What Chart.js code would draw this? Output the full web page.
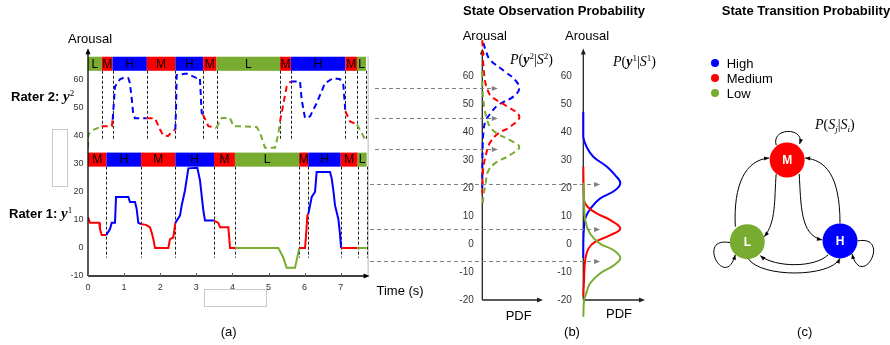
<!DOCTYPE html>
<html><head><meta charset="utf-8">
<script src="https://cdn.jsdelivr.net/npm/chart.js@4.4.0/dist/chart.umd.min.js"></script>
<style>
html,body{margin:0;padding:0;background:#fff;}
#wrap{position:relative;width:890px;height:345px;overflow:hidden;font-family:"Liberation Sans",Arial,sans-serif;}
canvas{position:absolute;left:0;top:0;}
.t{position:absolute;white-space:nowrap;color:#000;line-height:1;font-size:13px;}
.serif{font-family:"Liberation Serif","DejaVu Serif",serif;font-size:14px;}
.sup{font-size:0.65em;position:relative;top:-0.55em;}
.sub{font-size:0.65em;position:relative;top:0.3em;}
.dot{position:absolute;width:8px;height:8px;border-radius:50%;}
.box{position:absolute;border:1px solid #c8c8c8;box-sizing:border-box;}
</style></head><body><div id="wrap">
<canvas id="ca" width="890" height="345"></canvas>
<canvas id="cb2" width="890" height="345"></canvas>
<canvas id="cb1" width="890" height="345"></canvas>
<canvas id="cc" width="890" height="345"></canvas>
</div>
<script>
// ---------------- DATA ----------------
const STATE_COLOR = {H:'#0000FF', M:'#FF0000', L:'#77AC30'};

// Panel (a): time series
const timeTicks = [0,1,2,3,4,5,6,7];
const arousalTicksA = [-10,0,10,20,30,40,50,60];

const rater2Time  = [0,0.01,0.148,0.332,0.379,0.66,0.683,0.748,0.886,1.0,1.117,1.16,1.22,1.25,1.30,1.625,1.856,1.90,2.0,2.08,2.22,2.30,2.40,2.419,2.44,2.456,2.733,3.01,3.10,3.149,3.186,3.333,3.555,3.703,3.934,4.026,4.211,4.672,4.765,4.903,5.18,5.272,5.319,5.503,5.614,5.873,5.919,6.011,6.15,6.334,6.565,6.796,6.981,7.073,7.128,7.258,7.452,7.673];
const rater2Value = [35.6,40.4,42,43,43.3,43.3,45.6,57.4,60,60.6,60.4,58.7,52,48,46.1,46.1,46.1,44.8,42,40,39.8,41,42,42,50,61.5,62,60.4,60.4,48,47.4,43.3,42.7,46.2,46.2,43.3,43.3,43,41,35.6,35.6,40.4,45,57.4,59.2,59.2,52.7,46.2,46.8,51.5,58.6,60.4,60,58,48.6,45,43.9,38.6];
const rater2State = 'LLLL MM HHHHHHHHH MMMMMMMM HHHHHHH MM LLLLLLLLLL MM HHHHHHHHHH MM LL'.replace(/ /g,'').split('');

const rater1Time  = [0,0.055,0.314,0.332,0.379,0.508,0.609,0.656,0.748,0.776,1.117,1.163,1.302,1.348,1.394,1.468,1.625,1.717,1.764,1.81,1.856,2.225,2.271,2.364,2.419,2.548,2.595,2.687,2.779,3.029,3.102,3.195,3.241,3.49,3.61,3.657,3.887,3.934,4.072,5.272,5.411,5.503,5.734,5.854,6.011,6.039,6.076,6.104,6.196,6.288,6.334,6.704,6.75,6.796,6.842,6.934,6.981,7.01,7.47,7.72];
const rater1Value = [10.9,8.9,8.9,6.7,4.6,4.6,6.7,8.9,8.9,18.1,18.1,16.3,16.3,13.9,8.9,8.5,8.1,7.3,5.5,3.1,0,0,3.1,3.7,8.9,11.5,15.1,20.5,28.3,28.5,24,13.3,9.7,9.7,8.9,7.3,7.3,0,0,0,-3.5,-7.1,-7.1,0,0,4.3,11.5,12.1,18.1,19.9,27,27,24.7,20.5,15.1,10.3,4.9,0,0,0];
const rater1State = 'MMMMM HHHHHHHHHH MMMMMMMMM HHHHHHHHH MMMMM LLLLL MMMM HHHHHHHHHH M LL'.replace(/ /g,'').split('');

// state bands (segment boundaries in seconds, state of each segment)
const rater2Bounds = [0,0.38,0.68,1.63,2.42,3.19,3.56,5.32,5.62,7.13,7.45,7.70];
const rater2BandStates = ['L','M','H','M','H','M','L','M','H','M','L'];
const rater1Bounds = [0,0.51,1.47,2.42,3.49,4.07,5.85,6.10,7.0,7.47,7.72];
const rater1BandStates = ['M','H','M','H','M','L','M','H','M','L'];
const rater2BandRange = [63,68];
const rater1BandRange = [28.9,33.9];
const rater2MarkerBottom = 38.3;
const rater1MarkerBottom = -3.5;

// Panel (b): observation PDFs (arousal, pdf relative to peak)
const arousalTicksB = [-20,-10,0,10,20,30,40,50,60];
const pdf2HighArousal = [72,69,66,61.7,58.7,55.8,52.8,49.8,46.8,43.8,40,35,25,20];
const pdf2High        = [0.03,0.1,0.21,0.62,0.89,1.0,0.84,0.43,0.22,0.08,0.03,0.01,0,0];
const pdf2MedArousal  = [73,66,58.7,55,52.8,49.8,45.8,42,39.6,36.6,33.7,26.5,18];
const pdf2Med         = [0,0.02,0.07,0.15,0.25,0.61,1.0,0.75,0.43,0.22,0.13,0.02,0];
const pdf2LowArousal  = [62,55,49.2,45,42,39.6,37.2,34.8,31.9,28.9,25.9,21.7,17,14];
const pdf2Low         = [0,0.01,0.05,0.12,0.21,0.4,0.75,1.0,0.75,0.34,0.15,0.09,0.03,0.01];

const pdf1HighArousal = [47.4,38.4,34.8,31.3,27.7,24.7,21.9,19.3,16.3,13.3,9.8,6.2,0,-5];
const pdf1High        = [0,0,0.09,0.27,0.64,0.86,1.0,0.86,0.45,0.23,0.07,0.02,0,0];
const pdf1MedArousal  = [27.7,15.7,13.3,11,8.6,5.6,3.2,0.8,-1.6,-5.8,-13,-18.8];
const pdf1Med         = [0,0.02,0.12,0.36,0.73,1.0,0.73,0.32,0.14,0.05,0.02,0];
const pdf1LowArousal  = [22,16.9,8.6,3.8,0.2,-2.2,-5,-7.6,-10.5,-14.1,-17.1,-18.8,-20,-26];
const pdf1Low         = [0,0.02,0.05,0.18,0.45,0.82,1.0,0.82,0.45,0.18,0.09,0.05,0.02,0];

// arousal levels of the dashed arrows linking (a) to (b)
const rater2ArrowLevels = [55.9,45.3,33.9];
const rater1ArrowLevels = [21.4,5.3,-6.0];

// Panel (c): states of the transition diagram
const nodeStates = ['M','L','H'];
const nodeX = [0.43,0,1];
const nodeY = [1,0,0.01];
const legendStates = [['High','H'],['Medium','M'],['Low','L']];

// ---------------- HELPERS ----------------
const wrap = document.getElementById('wrap');
function addText(html, x, y, cls, align){
  const d = document.createElement('div');
  d.className = 't ' + (cls||'');
  d.innerHTML = html;
  d.style.left = x + 'px'; d.style.top = y + 'px';
  d.style.transform = align === 'center' ? 'translate(-50%,-50%)' : 'translate(0,-50%)';
  wrap.appendChild(d);
  return d;
}
function arrowHead(ctx, x, y, ang, len, wid, color){
  ctx.save(); ctx.translate(x,y); ctx.rotate(ang); ctx.fillStyle = color;
  ctx.beginPath(); ctx.moveTo(0,0); ctx.lineTo(-len,-wid/2); ctx.lineTo(-len,wid/2); ctx.closePath(); ctx.fill();
  ctx.restore();
}
const baseOpts = () => ({
  responsive:false, animation:false, devicePixelRatio:1,
  plugins:{legend:{display:false}, tooltip:{enabled:false}},
  events:[]
});

// ---------------- PANEL (a) ----------------
function drawBands(chart, bounds, states, range, bottomVal){
  const {ctx, scales:{x,y}} = chart;
  const yTop = y.getPixelForValue(range[1]), yBot = y.getPixelForValue(range[0]);
  ctx.save();
  for (let i=0;i<states.length;i++){
    const x0 = x.getPixelForValue(bounds[i]), x1 = x.getPixelForValue(bounds[i+1]);
    ctx.fillStyle = STATE_COLOR[states[i]];
    ctx.fillRect(x0, yTop, x1-x0, yBot-yTop);
    ctx.fillStyle = '#000'; ctx.font = '12px "Liberation Sans", Arial';
    ctx.textAlign = 'center'; ctx.textBaseline = 'middle';
    ctx.fillText(states[i], (x0+x1)/2, (yTop+yBot)/2+0.5);
  }
  ctx.strokeStyle = '#222'; ctx.lineWidth = 1; ctx.setLineDash([3,2]);
  const yb = y.getPixelForValue(bottomVal);
  for (let i=1;i<bounds.length;i++){
    const px = Math.round(x.getPixelForValue(bounds[i]))+0.5;
    ctx.beginPath(); ctx.moveTo(px, yBot); ctx.lineTo(px, yb); ctx.stroke();
  }
  ctx.restore();
}
const panelAPlugin = {
  id:'panelA',
  beforeDatasetsDraw(chart){
    const {ctx, scales:{y}, chartArea:a} = chart;
    ctx.save(); ctx.strokeStyle = '#b8b8b8'; ctx.lineWidth = 1;
    ctx.beginPath(); ctx.moveTo(a.right-1.5, y.getPixelForValue(rater2BandRange[1])); ctx.lineTo(a.right-1.5, a.bottom); ctx.stroke();
    ctx.restore();
    drawBands(chart, rater2Bounds, rater2BandStates, rater2BandRange, rater2MarkerBottom);
    drawBands(chart, rater1Bounds, rater1BandStates, rater1BandRange, rater1MarkerBottom);
  },
  afterDraw(chart){
    const {ctx, scales:{x}, chartArea:a} = chart;
    ctx.save(); ctx.strokeStyle = '#000'; ctx.lineWidth = 1.3;
    ctx.beginPath(); ctx.moveTo(a.left, a.bottom); ctx.lineTo(a.left, a.top+4); ctx.stroke();
    arrowHead(ctx, a.left, a.top, -Math.PI/2, 6, 5, '#000');
    ctx.beginPath(); ctx.moveTo(a.left, a.bottom); ctx.lineTo(a.right-4, a.bottom); ctx.stroke();
    arrowHead(ctx, a.right, a.bottom, 0, 6, 5, '#000');
    ctx.strokeStyle = '#666'; ctx.lineWidth = 1;
    timeTicks.forEach(v => { const px = Math.round(x.getPixelForValue(v))+0.5; ctx.beginPath(); ctx.moveTo(px, a.bottom); ctx.lineTo(px, a.bottom-3); ctx.stroke(); });
    ctx.restore();
  }
};
const seriesA = (t, v, s, dash) => ({
  data: t.map((tt,i)=>({x:tt, y:v[i]})),
  borderColor: STATE_COLOR[s[0]],
  segment:{borderColor: c => STATE_COLOR[s[c.p0DataIndex]]},
  borderWidth: 2, borderDash: dash, pointRadius: 0, tension: 0, fill:false
});
new Chart(document.getElementById('ca'), {
  type:'line',
  data:{datasets:[ seriesA(rater2Time, rater2Value, rater2State, [6,4]), seriesA(rater1Time, rater1Value, rater1State, []) ]},
  options:Object.assign(baseOpts(), {
    layout:{padding:{left:0, top:48.3, right:890-369.6, bottom:49}},
    scales:{
      x:{type:'linear', min:0, max:7.8, grid:{display:false, drawTicks:false}, border:{display:false},
         ticks:{font:{size:9, family:'"Liberation Sans", Arial'}, color:'#333', padding:6},
         afterBuildTicks: s => { s.ticks = timeTicks.map(v=>({value:v})); },
         afterFit: s => { s.height = 20; }},
      y:{type:'linear', min:-10, max:71, grid:{display:false, drawTicks:false}, border:{display:false},
         ticks:{font:{size:9, family:'"Liberation Sans", Arial'}, color:'#333', padding:4.5},
         afterBuildTicks: s => { s.ticks = arousalTicksA.map(v=>({value:v})); },
         afterFit: s => { s.width = 88; }}
    }
  }),
  plugins:[panelAPlugin]
});

// ---------------- PANEL (b) ----------------
function pdfChart(id, axisX, axisEndX, tickPad, curves, dash, arrowLevels, arrowStartPx, arrowEndPdf){
  const plugin = {
    id:'pdfAxes'+id,
    beforeDatasetsDraw(chart){
      const {ctx, chartArea:a} = chart;
      ctx.save(); ctx.strokeStyle = '#222'; ctx.lineWidth = 1.3;
      ctx.beginPath(); ctx.moveTo(a.left, a.bottom); ctx.lineTo(a.left, a.top+4); ctx.stroke();
      arrowHead(ctx, a.left, a.top, -Math.PI/2, 6, 5, '#222');
      ctx.beginPath(); ctx.moveTo(a.left, a.bottom); ctx.lineTo(a.right-4, a.bottom); ctx.stroke();
      arrowHead(ctx, a.right, a.bottom, 0, 6, 5, '#222');
      ctx.restore();
    },
    afterDraw(chart){
      const {ctx, scales:{x,y}} = chart;
      ctx.save(); ctx.strokeStyle = '#808080'; ctx.lineWidth = 1; ctx.setLineDash([4,3]);
      arrowLevels.forEach(v => {
        const py = Math.round(y.getPixelForValue(v))+0.5, xe = x.getPixelForValue(arrowEndPdf);
        ctx.beginPath(); ctx.moveTo(arrowStartPx, py); ctx.lineTo(xe-5, py); ctx.stroke();
        arrowHead(ctx, xe, py, 0, 6, 5, '#808080');
      });
      ctx.restore();
    }
  };
  new Chart(document.getElementById(id), {
    type:'scatter',
    data:{datasets: curves.map(c => ({
      data: c.a.map((av,i)=>({x:c.p[i], y:av})),
      showLine:true, borderColor: STATE_COLOR[c.s], borderWidth:2, borderDash:dash,
      pointRadius:0, tension:0.4, clip:false
    }))},
    options:Object.assign(baseOpts(), {
      layout:{padding:{left:0, top:48.6, right:890-axisEndX, bottom:45}},
      scales:{
        x:{type:'linear', display:false, min:0, max:(axisEndX-axisX)/37},
        y:{type:'linear', min:-20, max:70, grid:{display:false, drawTicks:false}, border:{display:false},
           ticks:{font:{size:10, family:'"Liberation Sans", Arial'}, color:'#333', padding:tickPad},
           afterBuildTicks: s => { s.ticks = arousalTicksB.map(v=>({value:v})); },
           afterFit: s => { s.width = axisX; }}
      }
    }),
    plugins:[plugin]
  });
}
pdfChart('cb2', 482.3, 543, 8.5, [
  {a:pdf2LowArousal, p:pdf2Low, s:'L'},
  {a:pdf2MedArousal, p:pdf2Med, s:'M'},
  {a:pdf2HighArousal, p:pdf2High, s:'H'}
], [6,4], rater2ArrowLevels, 375, 0.42);
pdfChart('cb1', 583.3, 645, 11.5, [
  {a:pdf1LowArousal, p:pdf1Low, s:'L'},
  {a:pdf1MedArousal, p:pdf1Med, s:'M'},
  {a:pdf1HighArousal, p:pdf1High, s:'H'}
], [], rater1ArrowLevels, 370, 0.455);

// ---------------- PANEL (c) ----------------
const diagramPlugin = {
  id:'diagram',
  beforeDatasetsDraw(chart){
    const meta = chart.getDatasetMeta(0);
    const P = {};
    nodeStates.forEach((s,i) => { P[s] = {x:meta.data[i].x, y:meta.data[i].y}; });
    const {ctx} = chart;
    ctx.save(); ctx.strokeStyle = '#000'; ctx.lineWidth = 1;
    const curve = (n0, s, c1, c2, n1, e) => {
      const S = {x:P[n0].x+s[0], y:P[n0].y+s[1]}, E = {x:P[n1].x+e[0], y:P[n1].y+e[1]};
      const C1 = {x:P[n0].x+c1[0], y:P[n0].y+c1[1]}, C2 = {x:P[n1].x+c2[0], y:P[n1].y+c2[1]};
      ctx.beginPath(); ctx.moveTo(S.x,S.y); ctx.bezierCurveTo(C1.x,C1.y,C2.x,C2.y,E.x,E.y); ctx.stroke();
      arrowHead(ctx, E.x, E.y, Math.atan2(E.y-C2.y, E.x-C2.x), 5, 4, '#000');
    };
    curve('M',[-11,-15],[-16,-33],[18,-33],'M',[12.5,-16]);      // M self
    curve('L',[-17,1],[-52,-6],[-22,50],'L',[-12,13]);            // L self
    curve('H',[17.5,0],[52,-6],[22,50],'H',[12,13]);              // H self
    curve('L',[-12,-15],[-14,-57],[-42,0],'M',[-18,-2]);          // L -> M
    curve('M',[-11,14],[-13,40],[29,-20],'L',[17,-5]);            // M -> L
    curve('M',[12,14],[14,45],[-40,-6],'H',[-18,-1]);             // M -> H
    curve('H',[0,-17.5],[0,-66],[38,0],'M',[18,-2]);              // H -> M
    curve('H',[-12,14],[-25,27],[28,26],'L',[13,14]);             // H -> L
    curve('L',[1,17],[13,36],[-10,37],'H',[0,17.5]);              // L -> H
    ctx.restore();
  },
  afterDatasetsDraw(chart){
    const meta = chart.getDatasetMeta(0); const {ctx} = chart;
    ctx.save(); ctx.fillStyle = '#fff'; ctx.font = 'bold 12px "Liberation Sans", Arial';
    ctx.textAlign = 'center'; ctx.textBaseline = 'middle';
    nodeStates.forEach((s,i) => ctx.fillText(s, meta.data[i].x, meta.data[i].y+0.5));
    ctx.restore();
  }
};
new Chart(document.getElementById('cc'), {
  type:'scatter',
  data:{datasets:[{
    data: nodeX.map((v,i)=>({x:v, y:nodeY[i]})),
    pointRadius:17.5, pointBackgroundColor: nodeStates.map(s=>STATE_COLOR[s]),
    pointBorderWidth:0, clip:false
  }]},
  options:Object.assign(baseOpts(), {
    layout:{padding:{left:747.3, top:160, right:890-840, bottom:345-241.7}},
    scales:{ x:{display:false, min:0, max:1}, y:{display:false, min:0, max:1} }
  }),
  plugins:[diagramPlugin]
});

// ---------------- TEXT ----------------
addText('Arousal', 68, 37.5);
addText('<b>Rater 2: </b><span class="serif" style="font-weight:bold;font-style:italic;font-size:15px">y</span><span class="serif sup" style="font-size:9px">2</span>', 11, 96);
addText('<b>Rater 1: </b><span class="serif" style="font-weight:bold;font-style:italic;font-size:15px">y</span><span class="serif sup" style="font-size:9px">1</span>', 9, 212.5);
addText('Time (s)', 376.5, 290);
addText('(a)', 228.7, 331, '', 'center');
addText('Arousal', 462.7, 35);
addText('Arousal', 565, 35);
addText('<i>P</i>(<b><i>y</i></b><span class="sup">2</span>|<i>S</i><span class="sup">2</span>)', 510, 60, 'serif');
addText('<i>P</i>(<b><i>y</i></b><span class="sup">1</span>|<i>S</i><span class="sup">1</span>)', 613, 61.5, 'serif');
addText('PDF', 518.7, 315, '', 'center');
addText('PDF', 619, 313, '', 'center');
addText('(b)', 572, 331, '', 'center');
addText('<b>State Observation Probability</b>', 554, 10, '', 'center');
addText('<b>State Transition Probability</b>', 806, 10, '', 'center');
legendStates.forEach((l,i) => {
  const cy = [62.7,78.3,93.3][i];
  addText(l[0], 726.7, cy);
  const d = document.createElement('div'); d.className = 'dot';
  d.style.background = STATE_COLOR[l[1]]; d.style.left = (715-4)+'px'; d.style.top = (cy-4)+'px';
  wrap.appendChild(d);
});
addText('<i>P</i>(<i>S<span class="sub">j</span></i>|<i>S<span class="sub">i</span></i>)', 815, 125, 'serif');
addText('(c)', 804.7, 331, '', 'center');
// empty frames present in the original figure
[[52,129,16,58],[204,289,63,18]].forEach(b => {
  const d = document.createElement('div'); d.className = 'box';
  d.style.left=b[0]+'px'; d.style.top=b[1]+'px'; d.style.width=b[2]+'px'; d.style.height=b[3]+'px';
  wrap.appendChild(d);
});
</script></body></html>
